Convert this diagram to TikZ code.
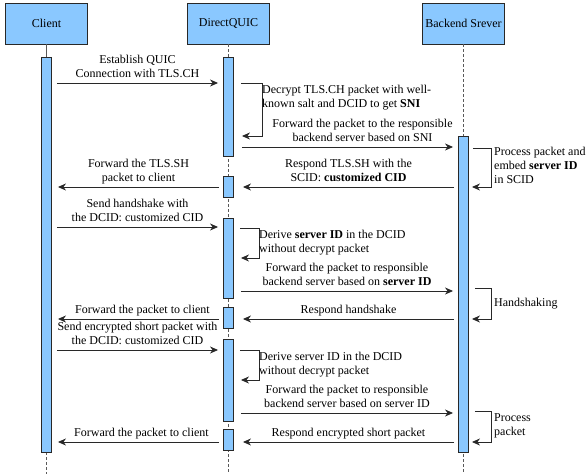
\documentclass[tikz,border=0pt]{standalone}
\usepackage{fontspec}
\setmainfont{Liberation Serif}
\newfontfamily\diagfont{Liberation Serif}
\usetikzlibrary{arrows.meta,calc}
\definecolor{BoxClr}{RGB}{138,200,255}
\definecolor{LineClr}{RGB}{40,40,40}

\begin{document}
\begin{tikzpicture}[x=1pt,y=-1pt,
  actor/.style={draw=LineClr,line width=.9pt,fill=BoxClr,minimum width=82pt,minimum height=41pt,inner sep=0pt},
  bar/.style={draw=LineClr,line width=.9pt,fill=BoxClr,minimum width=10pt,inner sep=0pt,anchor=north},
  life/.style={draw=black!65,line width=.9pt,dash pattern=on 3pt off 2pt},
  msg/.style={draw=LineClr,line width=.9pt,-{Stealth[length=8pt,width=7pt,inset=2.5pt]}},
  txt/.style={inner sep=0pt,align=center,execute at begin node=\strut,execute at end node=\strut},
  note/.style={txt,align=left,anchor=west},
  font=\diagfont\fontsize{12}{14}\selectfont]

\useasboundingbox (0,0) rectangle (587,474);

% lifeline heads
\node[actor] (client) at (46.5,23.5) {Client};
\node[actor] (dq) at (228.5,23.5) {DirectQUIC};
\node[actor] (be) at (463.5,23.5) {Backend Srever};

% lifelines
\draw[draw=black!65,line width=.9pt] (client.south) -- ++(0,13);
\draw[life] (client.south) ++(0,408) -- ++(0,22);
\draw[life] (dq.south) -- ++(0,430);
\draw[life] (be.south) -- ++(0,430);

% activation bars
\node[bar,minimum height=395pt] (cb) at (46.5,57) {};
\node[bar,minimum height=99pt] (dqA) at (228.5,57) {};
\node[bar,minimum height=21pt] (dqB) at (228.5,176) {};
\node[bar,minimum height=80pt] (dqC) at (228.5,218) {};
\node[bar,minimum height=21pt] (dqD) at (228.5,307) {};
\node[bar,minimum height=82pt] (dqE) at (228.5,339) {};
\node[bar,minimum height=21pt] (dqF) at (228.5,429) {};
\node[bar,minimum height=316pt] (bb) at (463.5,136) {};

% TLS.CH
\draw[msg] ($(cb.east |- 0,83)+(5,0)$) -- ($(dqA.west |- 0,83)+(-5,0)$)
  node[txt,midway,above=1pt] (m1) {Establish QUIC\\Connection with TLS.CH};
\draw[msg] ($(dqA.east |- 0,83)+(7,0)$) -- ++(21,0) -- ++(0,53) -- ($(dqA.east |- 0,136)+(8,0)$);
\node[note] (n1) at (262,98) {Decrypt TLS.CH packet with well-\\known salt and DCID to get \textbf{SNI}};
\draw[msg] ($(dqA.east |- 0,147)+(8,0)$) -- ($(bb.west |- 0,147)+(-5,0)$)
  node[txt,midway,above=1pt,xshift=15pt] (m2) {Forward the packet to the responsible\\backend server based on SNI};
\draw[msg] ($(bb.east |- 0,148)+(4,0)$) -- ++(18,0) -- ++(0,39) -- ($(bb.east |- 0,187)+(3,0)$);
\node[note] (n2) at (494,167) {Process packet and\\embed \textbf{server ID}\\in SCID};

% TLS.SH
\draw[msg] ($(bb.west |- 0,187)+(-4,0)$) -- ($(dqB.east |- 0,187)+(9,0)$)
  node[txt,midway,above=1pt] (m3) {Respond TLS.SH with the\\SCID: \textbf{customized CID}};
\draw[msg] ($(dqB.west |- 0,187)+(-4,0)$) -- ($(cb.east |- 0,187)+(6,0)$)
  node[txt,midway,above=1pt] (m4) {Forward the TLS.SH\\packet to client};

% handshake
\draw[msg] ($(cb.east |- 0,227)+(5,0)$) -- ($(dqC.west |- 0,227)+(-5,0)$)
  node[txt,midway,above=1pt] (m5) {Send handshake with\\the DCID: customized CID};
\draw[msg] ($(dqC.east |- 0,228)+(6,0)$) -- ++(19,0) -- ++(0,30) -- ($(dqC.east |- 0,258)+(7,0)$);
\node[note] (n3) at (259,243) {Derive \textbf{server ID} in the DCID\\without decrypt packet};
\draw[msg] ($(dqC.east |- 0,291)+(7,0)$) -- ($(bb.west |- 0,291)+(-5,0)$)
  node[txt,midway,above=1pt] (m6) {Forward the packet to responsible\\backend server based on \textbf{server ID}};
\draw[msg] ($(bb.east |- 0,288)+(6,0)$) -- ++(16,0) -- ++(0,31) -- ($(bb.east |- 0,319)+(3,0)$);
\node[note] (n4) at (494,304) {Handshaking};
\draw[msg] ($(bb.west |- 0,319)+(-4,0)$) -- ($(dqD.east |- 0,319)+(9,0)$)
  node[txt,midway,above=1pt] (m7) {Respond handshake};
\draw[msg] ($(dqD.west |- 0,319)+(-4,0)$) -- ($(cb.east |- 0,319)+(6,0)$)
  node[txt,midway,above=1pt,xshift=4pt] (m8) {Forward the packet to client};

% short packets
\draw[msg] ($(cb.east |- 0,350)+(5,0)$) -- ($(dqE.west |- 0,350)+(-5,0)$)
  node[txt,midway,above=1pt] (m9) {Send encrypted short packet with\\the DCID: customized CID};
\draw[msg] ($(dqE.east |- 0,350)+(6,0)$) -- ++(19,0) -- ++(0,30) -- ($(dqE.east |- 0,380)+(7,0)$);
\node[note] (n5) at (259,365) {Derive server ID in the DCID\\without decrypt packet};
\draw[msg] ($(dqE.east |- 0,413)+(7,0)$) -- ($(bb.west |- 0,413)+(-5,0)$)
  node[txt,midway,above=1pt] (m10) {Forward the packet to responsible\\backend server based on server ID};
\draw[msg] ($(bb.east |- 0,411)+(6,0)$) -- ++(16,0) -- ++(0,31) -- ($(bb.east |- 0,442)+(3,0)$);
\node[note] (n6) at (494,427) {Process\\packet};
\draw[msg] ($(bb.west |- 0,442)+(-4,0)$) -- ($(dqF.east |- 0,442)+(9,0)$)
  node[txt,midway,above=1pt] (m11) {Respond encrypted short packet};
\draw[msg] ($(dqF.west |- 0,442)+(-4,0)$) -- ($(cb.east |- 0,442)+(6,0)$)
  node[txt,midway,above=1pt,xshift=3pt] (m12) {Forward the packet to client};

\end{tikzpicture}
\end{document}
